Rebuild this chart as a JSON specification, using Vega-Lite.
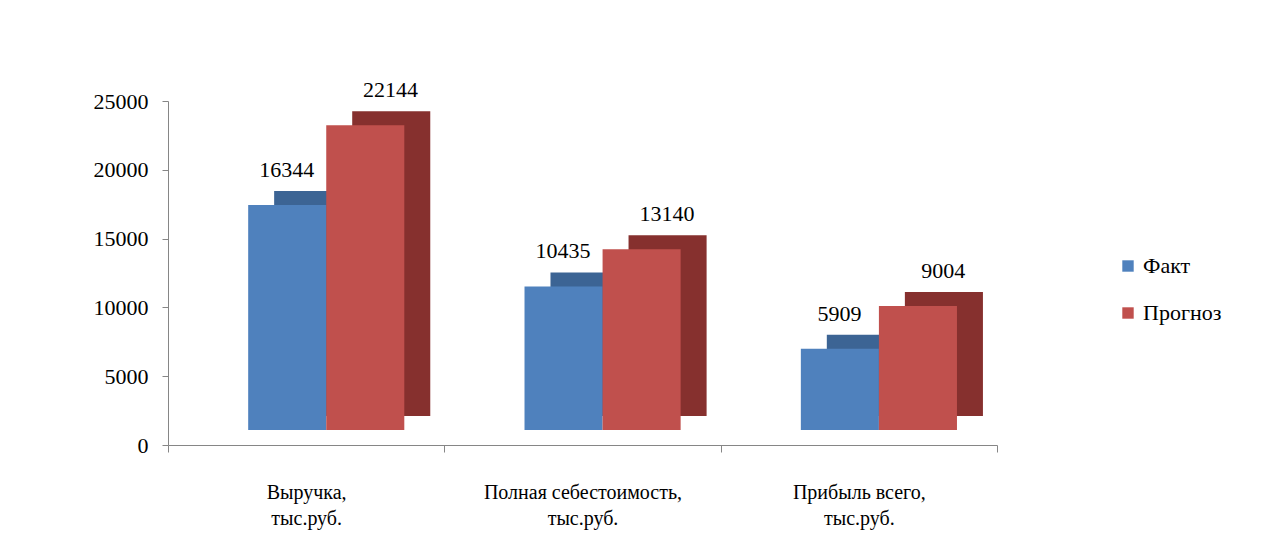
{
  "$schema": "https://vega.github.io/schema/vega-lite/v6.json",
  "autosize": {"type": "none"},
  "width": 829,
  "height": 344,
  "padding": {"left": 168, "top": 101, "right": 279, "bottom": 105},
  "background": "white",
  "config": {
    "font": "Liberation Serif",
    "view": {"stroke": null}
  },
  "data": {
    "values": [
      {"cat": "Выручка, тыс.руб.", "series": "Факт", "value": 16344},
      {"cat": "Выручка, тыс.руб.", "series": "Прогноз", "value": 22144},
      {"cat": "Полная себестоимость, тыс.руб.", "series": "Факт", "value": 10435},
      {"cat": "Полная себестоимость, тыс.руб.", "series": "Прогноз", "value": 13140},
      {"cat": "Прибыль всего, тыс.руб.", "series": "Факт", "value": 5909},
      {"cat": "Прибыль всего, тыс.руб.", "series": "Прогноз", "value": 9004}
    ]
  },
  "resolve": {"scale": {"xOffset": "independent", "color": "independent"}, "legend": {"color": "independent"}},
  "encoding": {
    "x": {
      "field": "cat", "type": "nominal",
      "sort": ["Выручка, тыс.руб.", "Полная себестоимость, тыс.руб.", "Прибыль всего, тыс.руб."],
      "scale": {"paddingInner": 0, "paddingOuter": 0},
      "axis": {
        "title": null, "labelAngle": 0, "labelFont": "Liberation Serif", "labelFontSize": 20, "labelColor": "black", "labelLimit": 500,
        "labelPadding": 30, "labelLineHeight": 26, "tickBand": "extent", "ticks": true, "tickSize": 7,
        "domainColor": "#868686", "tickColor": "#868686",
        "labelExpr": "datum.label ? [replace(datum.label, ' тыс.руб.', ''), 'тыс.руб.'] : ''"
      }
    },
    "xOffset": {
      "field": "series", "type": "nominal", "sort": ["Факт", "Прогноз"],
      "scale": {"paddingInner": 0, "paddingOuter": 0.77, "align": 0.667}
    },
    "y": {
      "field": "value", "type": "quantitative",
      "scale": {"domain": [0, 25000], "nice": false},
      "axis": {
        "title": null, "values": [0, 5000, 10000, 15000, 20000, 25000], "grid": false, "format": "d",
        "labelFont": "Liberation Serif", "labelFontSize": 22, "labelColor": "black", "labelPadding": 14, "tickSize": 6,
        "domainColor": "#868686", "tickColor": "#868686"
      }
    }
  },
  "layer": [
    {
      "mark": {"type": "bar", "yOffset": -29},
      "encoding": {
        "xOffset": {
          "field": "series", "type": "nominal", "sort": ["Факт", "Прогноз"],
          "scale": {"paddingInner": 0, "paddingOuter": 0.77, "align": 0.883}
        },
        "color": {
          "field": "series", "type": "nominal",
          "scale": {"domain": ["Факт", "Прогноз"], "range": ["#3C6494", "#86302E"]},
          "legend": null
        }
      }
    },
    {
      "mark": {"type": "bar", "yOffset": -15},
      "encoding": {
        "color": {
          "field": "series", "type": "nominal",
          "scale": {"domain": ["Факт", "Прогноз"], "range": ["#4F81BD", "#C0504D"]},
          "legend": {
            "title": null, "orient": "none", "legendX": 949, "legendY": 154,
            "symbolType": "square", "symbolSize": 130, "symbolStrokeWidth": 0,
            "labelFont": "Times New Roman, Liberation Serif, serif", "labelFontSize": 22, "labelColor": "black", "rowPadding": 25, "labelOffset": 4
          }
        }
      }
    },
    {
      "mark": {"type": "text", "baseline": "bottom", "dx": 7, "dy": -38, "font": "Times New Roman, Liberation Serif, serif", "fontSize": 22, "color": "black"},
      "encoding": {
        "text": {
          "condition": {"test": "datum.series === 'Факт'", "field": "value", "type": "quantitative", "format": "d"},
          "value": ""
        }
      }
    },
    {
      "mark": {"type": "text", "baseline": "bottom", "dx": 2, "dy": -38, "font": "Times New Roman, Liberation Serif, serif", "fontSize": 22, "color": "black"},
      "encoding": {
        "text": {
          "condition": {"test": "datum.series === 'Прогноз'", "field": "value", "type": "quantitative", "format": "d"},
          "value": ""
        }
      }
    }
  ]
}
